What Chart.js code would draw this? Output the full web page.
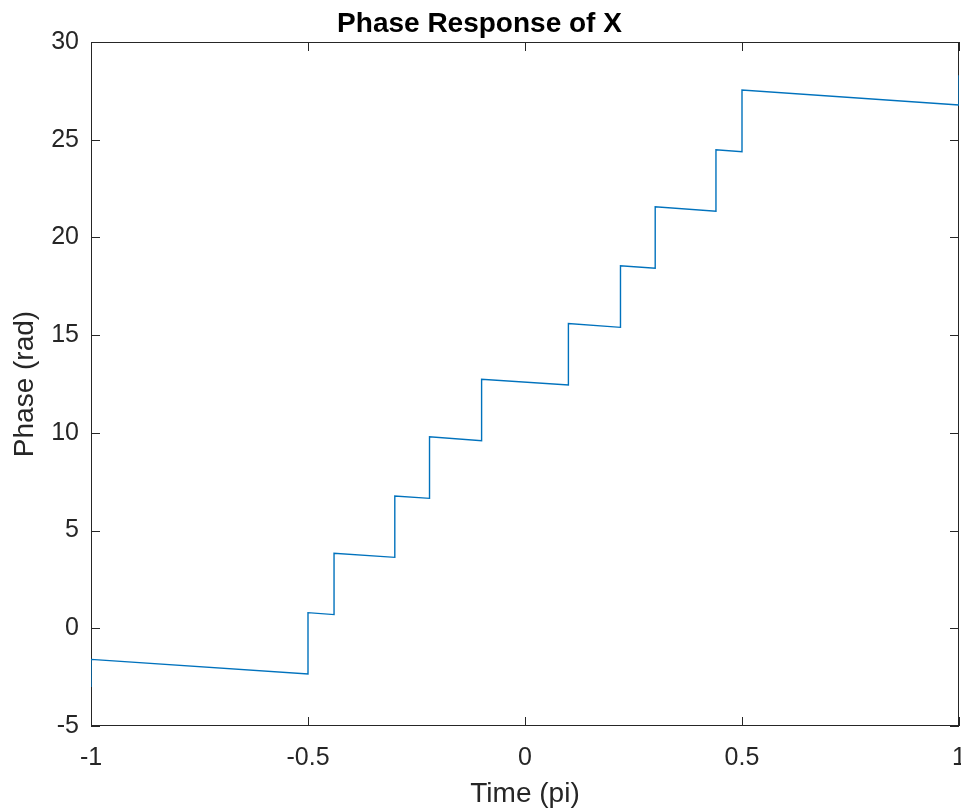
<!DOCTYPE html>
<html>
<head>
<meta charset="utf-8">
<title>Phase Response of X</title>
<script src="https://cdn.jsdelivr.net/npm/chart.js@4"></script>
<style>
  html, body { margin: 0; padding: 0; background: #fff; }
  canvas { display: block; }
</style>
</head>
<body>
<canvas id="phaseChart" width="961" height="810"></canvas>
<script>
// values (x in units of pi, phase in rad)
const phaseX = [-1, -1, -0.5, -0.5, -0.44, -0.44, -0.3, -0.3, -0.22, -0.22, -0.1, -0.1,
  0.1, 0.1, 0.22, 0.22, 0.3, 0.3, 0.44, 0.44, 0.5, 0.5, 1, 1];
const phaseY = [-3.0, -1.59, -2.34, 0.80, 0.70, 3.84, 3.63, 6.77, 6.65, 9.80, 9.60, 12.74,
  12.45, 15.59, 15.40, 18.55, 18.42, 21.57, 21.34, 24.49, 24.39, 27.54, 26.78, 28.3];
const xTicks = [-1, -0.5, 0, 0.5, 1];
const yTicks = [-5, 0, 5, 10, 15, 20, 25, 30];

const FONT = '"Liberation Sans", Arial, Helvetica, sans-serif';
const AXIS_COLOR = '#262626';
const TICK_LEN = 9;

// MATLAB style box with inward ticks on all four sides, under the line
const boxPlugin = {
  id: 'matlabBox',
  beforeDatasetsDraw(chart) {
    const { ctx, chartArea: a, scales: { x, y } } = chart;
    ctx.save();
    ctx.strokeStyle = AXIS_COLOR;
    ctx.lineWidth = 1;
    ctx.beginPath();
    xTicks.forEach(v => {
      const px = Math.round(x.getPixelForValue(v)) + 0.5;
      ctx.moveTo(px, a.bottom); ctx.lineTo(px, a.bottom - TICK_LEN);
      ctx.moveTo(px, a.top); ctx.lineTo(px, a.top + TICK_LEN);
    });
    yTicks.forEach(v => {
      const py = Math.round(y.getPixelForValue(v)) + 0.5;
      ctx.moveTo(a.left, py); ctx.lineTo(a.left + TICK_LEN, py);
      ctx.moveTo(a.right, py); ctx.lineTo(a.right - TICK_LEN, py);
    });
    ctx.stroke();
    ctx.strokeRect(Math.round(a.left) + 0.5, Math.round(a.top) + 0.5,
      Math.round(a.right - a.left) - 1, Math.round(a.bottom - a.top) - 1);
    ctx.restore();
  }
};

new Chart(document.getElementById('phaseChart'), {
  type: 'scatter',
  data: {
    datasets: [{
      data: phaseX.map((v, i) => ({ x: v, y: phaseY[i] })),
      showLine: true,
      borderColor: '#0072BD',
      borderWidth: 1.4,
      pointRadius: 0,
      tension: 0,
      fill: false,
    }],
  },
  options: {
    responsive: false,
    animation: false,
    devicePixelRatio: 1,
    layout: { padding: { left: 0, right: 2, top: 0, bottom: 0 } },
    plugins: {
      legend: { display: false },
      tooltip: { enabled: false },
      title: {
        display: true,
        text: 'Phase Response of X',
        color: '#000',
        font: { family: FONT, size: 28, weight: 'bold', lineHeight: 1 },
        padding: { top: 10, bottom: 4 },
      },
    },
    scales: {
      x: {
        type: 'linear',
        min: -1, max: 1,
        grid: { display: false, drawTicks: false },
        border: { display: false },
        afterBuildTicks: s => { s.ticks = xTicks.map(v => ({ value: v })); },
        ticks: {
          color: AXIS_COLOR, padding: 17, maxRotation: 0,
          font: { family: FONT, size: 25 },
          callback: v => String(v),
        },
        title: {
          display: true, text: 'Time (pi)', color: AXIS_COLOR,
          font: { family: FONT, size: 28, lineHeight: 1.1 }, padding: { top: 0, bottom: 0 },
        },
        afterFit: s => { s.height = 84; s.paddingLeft = 0; s.paddingRight = 0; },
      },
      y: {
        min: -5, max: 30,
        grid: { display: false, drawTicks: false },
        border: { display: false },
        afterBuildTicks: s => { s.ticks = yTicks.map(v => ({ value: v })); },
        ticks: {
          color: AXIS_COLOR, padding: 12,
          font: { family: FONT, size: 25 },
          callback: v => String(v),
        },
        title: {
          display: true, text: 'Phase (rad)', color: AXIS_COLOR,
          font: { family: FONT, size: 28 }, padding: { top: 8, bottom: 0 },
        },
        afterFit: s => { s.width = 91; s.paddingTop = 0; s.paddingBottom = 0; },
      },
    },
  },
  plugins: [boxPlugin],
});
</script>
</body>
</html>
